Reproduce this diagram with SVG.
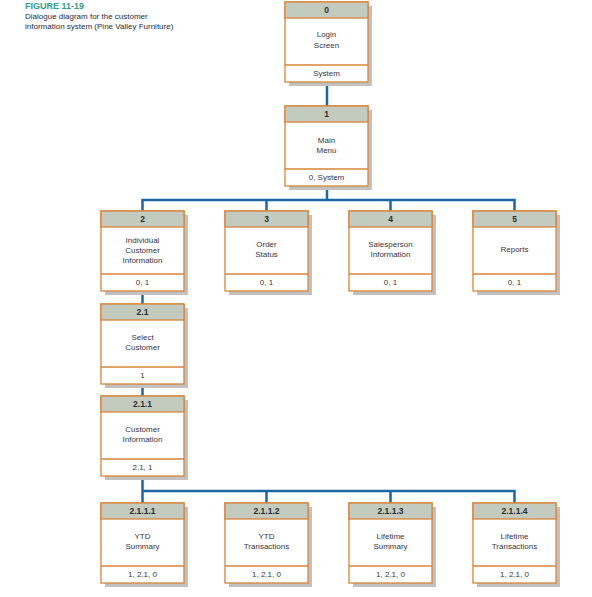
<svg xmlns="http://www.w3.org/2000/svg" width="592" height="597" viewBox="0 0 592 597">
<style>
.bg{fill:#ffffff}
.sh{fill:#c2c0c0}
.box{fill:#ffffff;stroke:#d8843a;stroke-width:1.3}
.hd{fill:#c3cbbf;stroke:#d8843a;stroke-width:1.3}
.ln{stroke:#d8843a;stroke-width:1.3}
.num{font-family:"Liberation Sans",Arial,sans-serif;font-size:8.5px;font-weight:bold;fill:#2b2b2b;text-anchor:middle}
.lbl{font-family:"Liberation Sans",Arial,sans-serif;font-size:8px;fill:#3a3340;text-anchor:middle}
.con{fill:none;stroke:#1b67a6;stroke-width:2.5}
.fig{font-family:"Liberation Sans",Arial,sans-serif;font-size:9px;font-weight:bold;fill:#2e9e8a}
.cap{font-family:"Liberation Sans",Arial,sans-serif;font-size:8px;fill:#2c2a36}
</style>
<defs>
<g id="frame">
<rect class="sh" x="4" y="4" width="83" height="80"/>
<rect class="box" x="0" y="0" width="83" height="80"/>
<rect class="hd" x="0" y="0" width="83" height="16"/>
<line class="ln" x1="0" y1="63" x2="83" y2="63"/>
</g>
</defs>
<rect class="bg" x="0" y="0" width="592" height="597"/>
<g id="caption">
<text class="fig" x="25" y="9">FIGURE 11-19</text>
<text class="cap" x="25" y="19">Dialogue diagram for the customer</text>
<text class="cap" x="25" y="29">information system (Pine Valley Furniture)</text>
</g>
<g id="connectors">
<path class="con" d="M327,82 V106"/>
<path class="con" d="M327,186 V200 M142.5,211 V200 H514.5 V211 M266.5,200 V211 M390.5,200 V211"/>
<path class="con" d="M142.5,291 V304"/>
<path class="con" d="M142.5,384 V396"/>
<path class="con" d="M142.5,476 V503 M142.5,491 H514.5 V503 M266.5,491 V503 M390.5,491 V503"/>
</g>
<g id="node-0" transform="translate(285,2)">
<use href="#frame"/>
<text class="num" x="41.5" y="11">0</text>
<text class="lbl" x="41.5" y="35">Login</text>
<text class="lbl" x="41.5" y="46">Screen</text>
<text class="lbl" x="41.5" y="74">System</text>
</g>
<g id="node-1" transform="translate(285,106)">
<use href="#frame"/>
<text class="num" x="41.5" y="11">1</text>
<text class="lbl" x="41.5" y="37">Main</text>
<text class="lbl" x="41.5" y="47">Menu</text>
<text class="lbl" x="41.5" y="74">0, System</text>
</g>
<g id="node-2" transform="translate(101,211)">
<use href="#frame"/>
<text class="num" x="41.5" y="11">2</text>
<text class="lbl" x="41.5" y="32">Individual</text>
<text class="lbl" x="41.5" y="42">Customer</text>
<text class="lbl" x="41.5" y="52">Information</text>
<text class="lbl" x="41.5" y="74">0, 1</text>
</g>
<g id="node-3" transform="translate(225,211)">
<use href="#frame"/>
<text class="num" x="41.5" y="11">3</text>
<text class="lbl" x="41.5" y="36">Order</text>
<text class="lbl" x="41.5" y="46">Status</text>
<text class="lbl" x="41.5" y="74">0, 1</text>
</g>
<g id="node-4" transform="translate(349,211)">
<use href="#frame"/>
<text class="num" x="41.5" y="11">4</text>
<text class="lbl" x="41.5" y="36">Salesperson</text>
<text class="lbl" x="41.5" y="46">Information</text>
<text class="lbl" x="41.5" y="74">0, 1</text>
</g>
<g id="node-5" transform="translate(473,211)">
<use href="#frame"/>
<text class="num" x="41.5" y="11">5</text>
<text class="lbl" x="41.5" y="41">Reports</text>
<text class="lbl" x="41.5" y="74">0, 1</text>
</g>
<g id="node-2.1" transform="translate(101,304)">
<use href="#frame"/>
<text class="num" x="41.5" y="11">2.1</text>
<text class="lbl" x="41.5" y="36">Select</text>
<text class="lbl" x="41.5" y="46">Customer</text>
<text class="lbl" x="41.5" y="74">1</text>
</g>
<g id="node-2.1.1" transform="translate(101,396)">
<use href="#frame"/>
<text class="num" x="41.5" y="11">2.1.1</text>
<text class="lbl" x="41.5" y="36">Customer</text>
<text class="lbl" x="41.5" y="46">Information</text>
<text class="lbl" x="41.5" y="74">2.1, 1</text>
</g>
<g id="node-2.1.1.1" transform="translate(101,503)">
<use href="#frame"/>
<text class="num" x="41.5" y="11">2.1.1.1</text>
<text class="lbl" x="41.5" y="36">YTD</text>
<text class="lbl" x="41.5" y="46">Summary</text>
<text class="lbl" x="41.5" y="74">1, 2.1, 0</text>
</g>
<g id="node-2.1.1.2" transform="translate(225,503)">
<use href="#frame"/>
<text class="num" x="41.5" y="11">2.1.1.2</text>
<text class="lbl" x="41.5" y="36">YTD</text>
<text class="lbl" x="41.5" y="46">Transactions</text>
<text class="lbl" x="41.5" y="74">1, 2.1, 0</text>
</g>
<g id="node-2.1.1.3" transform="translate(349,503)">
<use href="#frame"/>
<text class="num" x="41.5" y="11">2.1.1.3</text>
<text class="lbl" x="41.5" y="36">Lifetime</text>
<text class="lbl" x="41.5" y="46">Summary</text>
<text class="lbl" x="41.5" y="74">1, 2.1, 0</text>
</g>
<g id="node-2.1.1.4" transform="translate(473,503)">
<use href="#frame"/>
<text class="num" x="41.5" y="11">2.1.1.4</text>
<text class="lbl" x="41.5" y="36">Lifetime</text>
<text class="lbl" x="41.5" y="46">Transactions</text>
<text class="lbl" x="41.5" y="74">1, 2.1, 0</text>
</g>
</svg>
